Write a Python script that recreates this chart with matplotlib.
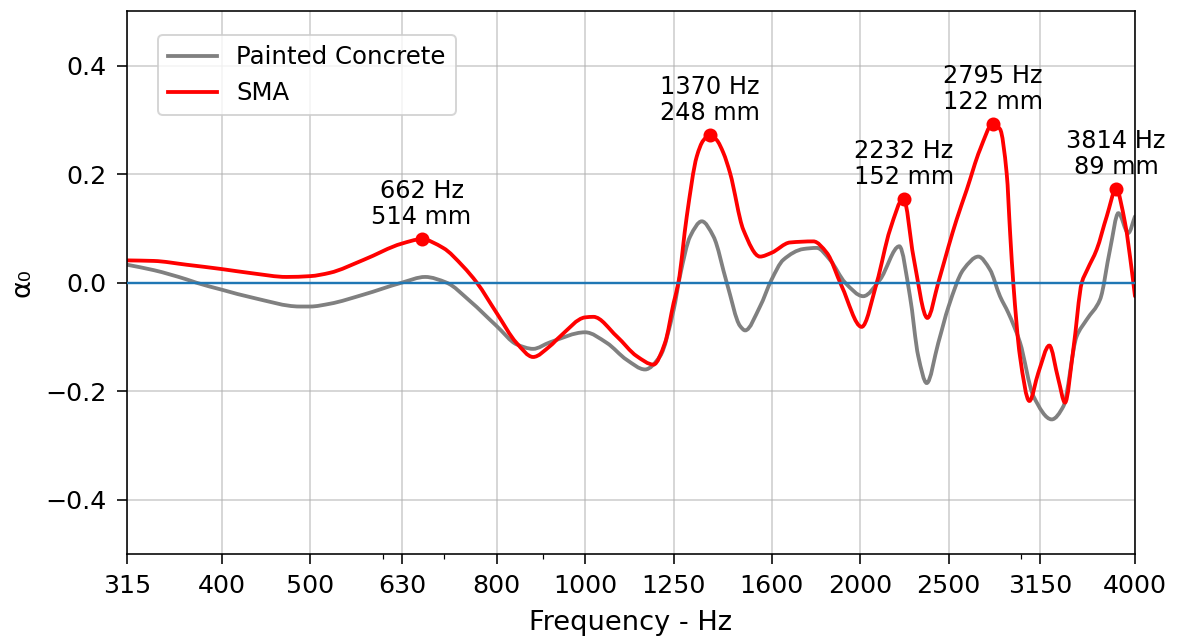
import numpy as np
import matplotlib
matplotlib.use("Agg")
import matplotlib.pyplot as plt
from matplotlib.path import Path
from matplotlib.patches import PathPatch
from matplotlib.lines import Line2D
from matplotlib.ticker import FixedLocator, FixedFormatter, NullFormatter, LogLocator

# Measured curves (frequency in Hz, absorption difference)
concrete_freq = [315, 337, 366, 375, 400, 433, 487, 500, 525, 572, 630, 668, 705, 748,
                 800, 842, 877, 915, 1000, 1056, 1110, 1163, 1208, 1250, 1270, 1303,
                 1342, 1382, 1429, 1478, 1497, 1554, 1600, 1648, 1734, 1793, 1854, 1926,
                 2016, 2103, 2208, 2268, 2316, 2366, 2436, 2500, 2595, 2695, 2775, 2846,
                 2907, 2993, 3096, 3243, 3339, 3453, 3542, 3663, 3756, 3836, 3933, 4000]
concrete_alpha = [0.033, 0.023, 0.006, 0.0, -0.013, -0.028, -0.044, -0.044, -0.039, -0.022,
                  0.0, 0.0105, 0.0, -0.034, -0.080, -0.114, -0.122, -0.110, -0.0915, -0.111,
                  -0.142, -0.160, -0.1355, -0.050, 0.012, 0.085, 0.113, 0.085, 0.0, -0.080,
                  -0.088, -0.044, 0.0055, 0.042, 0.062, 0.064, 0.042, 0.0, -0.025, 0.0055,
                  0.067, -0.025, -0.1355, -0.185, -0.111, -0.044, 0.024, 0.048, 0.024, -0.025,
                  -0.056, -0.110, -0.209, -0.252, -0.228, -0.099, -0.068, -0.031, 0.061,
                  0.128, 0.0915, 0.122]

sma_freq = [315, 337, 366, 400, 433, 471, 500, 525, 572, 630, 662, 699, 735, 761, 800,
            841, 877, 915, 939, 1000, 1021, 1083, 1139, 1188, 1223, 1250, 1265, 1292,
            1325, 1347, 1370, 1393, 1417, 1441, 1490, 1554, 1600, 1676, 1778, 1839, 1910,
            2008, 2086, 2157, 2232, 2288, 2370, 2436, 2500, 2551, 2617, 2706, 2795, 2846,
            2895, 2920, 2943, 2993, 3065, 3135, 3223, 3297, 3353, 3424, 3498, 3547, 3632,
            3725, 3814, 3901, 3967, 4000]
sma_alpha = [0.041, 0.040, 0.033, 0.025, 0.017, 0.0105, 0.012, 0.018, 0.042, 0.072, 0.080,
             0.064, 0.030, 0.0, -0.056, -0.111, -0.137, -0.117, -0.099, -0.064, -0.063,
             -0.099, -0.1355, -0.151, -0.111, -0.037, 0.0, 0.122, 0.2325, 0.262, 0.272,
             0.263, 0.239, 0.202, 0.0975, 0.048, 0.055, 0.074, 0.076, 0.055, -0.007,
             -0.0815, 0.0, 0.0975, 0.155, 0.048, -0.065, 0.0, 0.067, 0.116, 0.171, 0.245,
             0.292, 0.283, 0.200, 0.090, 0.0, -0.1355, -0.218, -0.166, -0.116, -0.178,
             -0.221, -0.123, 0.0, 0.024, 0.061, 0.122, 0.172, 0.110, 0.024, -0.025]

# Peaks of the SMA curve that get labelled
peak_freq = [662, 1370, 2232, 2795, 3814]
peak_alpha = [0.080, 0.272, 0.155, 0.292, 0.172]
sound_speed = 340.0  # m/s, used for the wavelength labels

band_ticks = [315, 400, 500, 630, 800, 1000, 1250, 1600, 2000, 2500, 3150, 4000]


def smooth_path(freq, vals):
    """Bezier path through the measured points (shape-preserving Hermite
    tangents in log-frequency), so the trace is drawn as a smooth curve."""
    u = np.log10(np.asarray(freq, float))
    y = np.asarray(vals, float)
    h = np.diff(u)
    d = np.diff(y) / h
    m = np.zeros_like(y)
    m[0], m[-1] = d[0], d[-1]
    for k in range(1, len(y) - 1):
        if d[k - 1] * d[k] > 0:
            w1 = 2 * h[k] + h[k - 1]
            w2 = h[k] + 2 * h[k - 1]
            m[k] = (w1 + w2) / (w1 / d[k - 1] + w2 / d[k])
    verts = [(freq[0], y[0])]
    codes = [Path.MOVETO]
    for k in range(len(y) - 1):
        c1 = (10 ** (u[k] + h[k] / 3), y[k] + m[k] * h[k] / 3)
        c2 = (10 ** (u[k + 1] - h[k] / 3), y[k + 1] - m[k + 1] * h[k] / 3)
        verts += [c1, c2, (freq[k + 1], y[k + 1])]
        codes += [Path.CURVE4] * 3
    return Path(verts, codes)


plt.rcParams['font.family'] = 'DejaVu Sans'
plt.rcParams['font.size'] = 12

fig = plt.figure(figsize=(1177 / 144, 637 / 144), dpi=144)
ax = fig.add_axes([0.1079, 0.1303, 0.8564, 0.852])

line_w = 1.9
ax.add_patch(PathPatch(smooth_path(concrete_freq, concrete_alpha), fill=False,
                       edgecolor='gray', lw=line_w, capstyle='round'))
ax.add_patch(PathPatch(smooth_path(sma_freq, sma_alpha), fill=False,
                       edgecolor='red', lw=line_w, capstyle='round'))
ax.axhline(0, color='tab:blue', lw=1.2, zorder=3)

ax.plot(peak_freq, peak_alpha, 'o', color='red', ms=6, zorder=4)
for f, a in zip(peak_freq, peak_alpha):
    wavelength_mm = sound_speed / f * 1000
    ax.annotate(f"{f} Hz\n{wavelength_mm:.0f} mm", xy=(f, a), xytext=(0, 5),
                textcoords='offset points', ha='center', va='bottom',
                fontsize=12, annotation_clip=False, linespacing=1.1)

ax.set_xscale('log')
ax.set_xlim(315, 4000)
ax.set_ylim(-0.5, 0.5)
ax.xaxis.set_major_locator(FixedLocator(band_ticks))
ax.xaxis.set_major_formatter(FixedFormatter([str(t) for t in band_ticks]))
ax.xaxis.set_minor_locator(LogLocator(base=10, subs=np.arange(2, 10)))
ax.xaxis.set_minor_formatter(NullFormatter())
ax.set_yticks([-0.4, -0.2, 0.0, 0.2, 0.4])
ax.tick_params(which='major', length=5, pad=5, labelsize=12.6)
ax.tick_params(which='minor', length=2.5)

ax.grid(True, which='major', color='#b0b0b0', alpha=0.5, lw=1.0)
ax.set_axisbelow(True)

ax.set_xlabel('Frequency - Hz', fontsize=13.6, labelpad=6)
ax.set_ylabel('α₀', fontsize=13.6, labelpad=5)

handles = [Line2D([], [], color='gray', lw=line_w, label='Painted Concrete'),
           Line2D([], [], color='red', lw=line_w, label='SMA')]
ax.legend(handles=handles, loc='upper left', bbox_to_anchor=(0.019, 0.978), fontsize=12.2)

fig.savefig('out.png', dpi=144)
